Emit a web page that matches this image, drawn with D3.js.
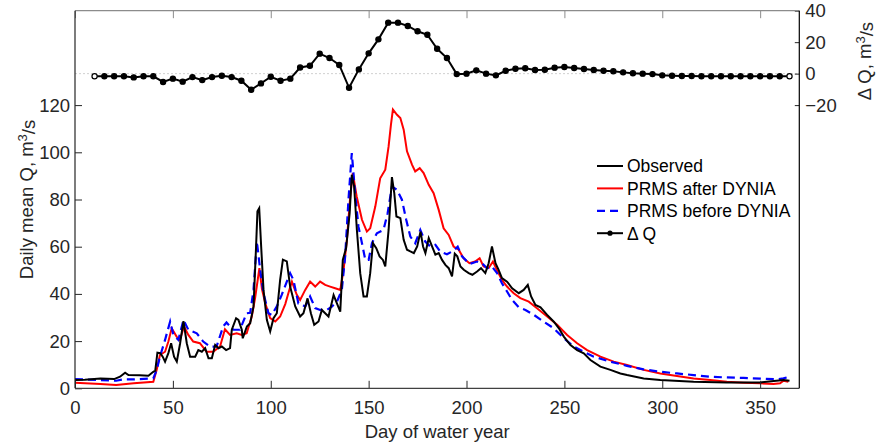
<!DOCTYPE html>
<html>
<head>
<meta charset="utf-8">
<script src="https://cdn.jsdelivr.net/npm/d3@7"></script>
<style>
  body { margin: 0; background: #fff; }
  text { font-family: Arial, "Liberation Sans", Helvetica, sans-serif; }
</style>
</head>
<body>
<svg id="chart" width="878" height="444"></svg>
<script>
// daily mean Q (m3/s), read as [day, Q]
const observed = [[0,3.5],[5,3.6],[13,4.2],[20,3.9],[23,4.9],[25.6,6.6],[27.3,5.6],[33,5.5],[37.5,5.3],[40,7.0],[41,7.5],
  [42.1,15.1],[43.5,14.9],[44.8,13.4],[46,11.3],[47.7,14.9],[49.1,19.1],[50.6,13.4],[52,11.3],[53.7,19.1],[55.4,28.5],
  [57.1,19.1],[58.8,13.4],[61.4,13.4],[63,16.2],[64.8,15.5],[66.5,17],[68.2,12.7],[69.9,12.7],[71.6,18.4],[73.3,17],
  [75,17.7],[77.2,16.2],[79.2,17],[80.1,24.8],[82.3,29.7],[83.5,29],[85.2,24.8],[85.7,21.2],[87.8,26.2],[89.5,27.6],
  [91.2,34.7],[92.5,60.1],[93.2,75],[94.1,76.3],[95.1,60.1],[96.3,41.7],[98,29],[99.7,24.1],[101.4,29.7],[103.1,31.8],
  [104.8,46],[106.2,54.5],[108.2,53.8],[109.9,43.1],[112.5,34.7],[115,30.4],[116.7,31.8],[118.8,38.1],[120.5,31.8],
  [122.2,26.9],[124.4,28.3],[126.1,33.2],[127.8,31.8],[129.5,30.4],[132.1,39.5],[133.8,36],[135.5,32.5],[136.8,54.4],
  [138.5,59.4],[140.3,74.2],[141.4,90.5],[142.6,85.5],[144,67.1],[145.7,48.8],[147.4,38.9],[149.1,38.9],[150.8,48.8],
  [152.2,61.5],[153.9,59.4],[155.6,55.9],[157.3,54.4],[158.5,51.6],[160.2,67.1],[161.9,89.5],[163.1,82.7],[164.2,72.8],
  [166.2,72.1],[167.9,62.9],[169.6,58.7],[171.3,58],[173.1,57.3],[174.8,60.1],[176.5,66.4],[177.8,60.1],[179,57.3],
  [180.7,63.6],[182.4,60.1],[184.1,56.6],[185.8,57.3],[187.5,54.4],[189.2,52.3],[190.9,50.9],[192.6,47.4],[194,57],
  [195.3,55.9],[196.9,51.6],[198.6,50.2],[201.1,48.8],[203,48.1],[205.4,49.5],[207.4,50.9],[209.6,48.8],[211.3,53],
  [213,60.1],[214.8,53],[216.4,50.2],[218.1,46.7],[220.7,45.2],[223.3,42.4],[226.7,40.3],[229.2,41.7],[231.3,43.8],
  [233,38.9],[235.2,35.3],[237.8,34.3],[241.2,31.1],[244.6,28.2],[247.2,25.4],[249.7,21.9],[253.1,18.3],[256.5,16.2],
  [259.9,14.8],[263.3,12],[268.4,9.2],[273.5,7.8],[278.6,6.3],[282,5.6],[290.5,4.2],[299,3.5],[316,2.8],[333,2.5],
  [350,2.5],[357,3.1],[362,3.5],[365,3.2]];

const prmsAfter = [[0,2.4],[13,1.8],[21,1.4],[30,2.1],[40,2.8],[41.7,7.7],[43.4,14.1],[46,15.5],[47.7,19.8],[49.4,25.4],
  [51.9,21.9],[53.6,20.5],[55.7,26.2],[57.9,22.6],[60.4,19.8],[63.8,19.1],[67.2,15.5],[70.6,15.5],[74.1,17.7],[76.6,25],
  [79.2,22.6],[82.6,23.3],[85.2,22.6],[87.7,23.3],[90.3,30.4],[92,38.2],[94.2,50.9],[95.5,42],[97.2,36],[99.7,29.7],
  [102.3,28.3],[104.8,30.4],[107.4,35.7],[109.1,40.6],[110.8,45.2],[113.3,39.6],[115,37.4],[117.6,41.7],[120.1,45.2],
  [122.7,43.1],[125.2,45.2],[127.8,43.8],[130.3,43.1],[132.9,42.4],[135.5,41.7],[137.2,50.2],[138.9,62.9],[140.6,81.3],
  [141.9,91.2],[143.9,81.3],[146.6,71.4],[149.1,66.4],[150.8,67.8],[153.4,77],[155.9,89],[158.5,92.6],[160.2,102.5],
  [161.4,111.7],[162.4,118.1],[164.5,115.9],[166.2,114.5],[167.9,109.6],[169.6,100.4],[172.2,94.7],[173.8,91.9],
  [176.1,93.3],[178.1,91.2],[180.7,86.2],[183.2,82.7],[185.8,75.6],[188.3,67.8],[190.9,65],[193.4,60.1],[196,58.7],
  [198.5,55.1],[201.5,53],[204.4,53.7],[206.7,55.1],[208.7,51.6],[211.3,50.9],[213.5,53.7],[215.5,50.2],[218.1,45.9],
  [220.7,43.1],[224.1,40.3],[227.5,38.2],[231.8,36.7],[236,33.9],[241.2,30.4],[246.3,26.9],[251.4,22.6],[256.5,19.1],
  [261.6,16.2],[268.4,13.4],[275.2,11.3],[282,9.9],[290.5,7.8],[299,6.3],[307.5,5.2],[316,4.2],[324.5,3.5],[333,2.8],
  [341.5,2.4],[350,2.1],[356.8,1.8],[360.2,2.1],[361.9,3.2],[364.4,2.8]];

const prmsBefore = [[0,3.9],[13,3.5],[21,3.2],[25,3.8],[30,3.8],[40,4.2],[41.7,7.7],[43.4,13.4],[46,20.5],[48.6,28.3],
  [50.3,22.6],[52.8,20.5],[55.4,29],[57.9,24.8],[62.2,23.3],[65.5,19.8],[68.9,17.7],[72.3,17.7],[75.7,26.2],[77.4,27.9],
  [80.8,24.8],[84.2,24.8],[87.7,31.8],[89.5,32],[91.2,41.7],[92.9,62.2],[94.6,50.2],[96.3,40.3],[98.8,31.8],[100.5,31.1],
  [103.1,34.7],[105.6,39.6],[108.2,45.2],[109.9,48.8],[111.6,45.9],[114.1,36],[115,36],[117.6,34.6],[120.1,38.9],
  [122.7,34],[125.2,33.2],[128.6,33.2],[131.2,34.6],[133.8,36.7],[136.3,41.7],[138,55.8],[139.7,79.9],[141.4,99.7],
  [143.1,82.7],[144.8,68.5],[146.6,61.5],[148.3,54.4],[150,54.4],[151.7,61.5],[154.2,65.7],[157.6,67.1],[159.7,74.2],
  [161.9,85.5],[164.5,84.1],[167,79.9],[169.2,71.4],[171.3,64.3],[173.8,61.5],[176.4,67.1],[178.9,62.2],[181.5,60.1],
  [184.1,60.8],[186.6,57.9],[190,56.8],[193.4,58.3],[195.5,60],[197.7,55.9],[201.5,52.7],[205.4,53.7],[207.9,53],
  [210.5,50.9],[213,51.6],[215.6,48.8],[218.1,44.5],[220.7,41],[223.3,37.4],[226.7,34.3],[230.1,33.2],[234.4,31.1],
  [239.5,28.2],[244.6,25.4],[249.7,21.2],[254.8,17.7],[259.9,15.5],[265,13.4],[273.5,11.3],[282,9.5],[290.5,8],[299,7],
  [307.5,6.3],[316,5.6],[324.5,4.9],[333,4.6],[341.5,4.4],[350,4.1],[358.5,3.8],[361.9,4.2],[363.6,4.6],[364.6,4.1]];

// delta Q every 5 days from day 10 to 365
const dqDays = d3.range(10, 366, 5);
const dqValues = [-1.7,-1.7,-1.7,-1.7,-2.4,-1.7,-1.7,-5.3,-3.2,-5.1,-2.2,-4.1,-2.2,-1.3,-2.2,-4.5,-10.2,-6.2,-2,-4.5,
  -3.2,3.9,5.0,12.7,9.9,5.5,-9.0,2.7,12.9,21.8,32.4,32.4,30.3,26.9,24.7,15.8,9.9,-0.3,0,2.1,0,-1.1,1.8,3.1,3.4,2.3,
  2.5,3.8,4.2,3.6,2.9,2.3,1.8,1.5,0.8,0.2,0,-0.3,-1.1,-1.3,-1.5,-1.5,-1.7,-1.7,-1.7,-1.7,-1.7,-1.7,-1.7,-1.7,-1.7,-1.7];

const xTicks = [0,50,100,150,200,250,300,350];
const yTicks = [0,20,40,60,80,100,120];
const yRTicks = [-20,0,20,40];
const legendItems = ["Observed","PRMS after DYNIA","PRMS before DYNIA","\u0394 Q"];

let mLeft = 75, mRight = 799.3, mTop = 10.7, mBottom = 388.3;
let svg = d3.select('#chart');

let x = d3.scaleLinear().domain([0,370]).range([mLeft,mRight]);
let y = d3.scaleLinear().domain([0,160]).range([mBottom,mTop]);
let yR = d3.scaleLinear().domain([-200,40]).range([mBottom,mTop]);

let axisColor = '#262626';

// zero line of delta Q axis
svg.append('line')
  .attr('x1', mLeft).attr('x2', mRight)
  .attr('y1', yR(0)).attr('y2', yR(0))
  .attr('stroke', '#d0d0d0').attr('stroke-width', 1)
  .attr('stroke-dasharray', '2,2');

let line = d3.line().x(d => x(d[0])).y(d => y(d[1]));

svg.append('path').datum(prmsAfter)
  .attr('d', line).attr('fill','none')
  .attr('stroke','#ff0000').attr('stroke-width',2);

svg.append('path').datum(prmsBefore)
  .attr('d', line).attr('fill','none')
  .attr('stroke','#0000ff').attr('stroke-width',2.2)
  .attr('stroke-dasharray','8,5');

svg.append('path').datum(observed)
  .attr('d', line).attr('fill','none')
  .attr('stroke','#000').attr('stroke-width',2);

let dq = dqDays.map((d,i) => [d, dqValues[i]]);
let dqLine = d3.line().x(d => x(d[0])).y(d => yR(d[1]));
svg.append('path').datum(dq)
  .attr('d', dqLine).attr('fill','none')
  .attr('stroke','#000').attr('stroke-width',2);
svg.append('g').selectAll('circle').data(dq).enter()
  .append('circle')
  .attr('cx', d => x(d[0])).attr('cy', d => yR(d[1]))
  .attr('r', 2.6)
  .attr('fill', (d,i) => (i === 0 || i === dq.length-1) ? '#fff' : '#000')
  .attr('stroke', '#000').attr('stroke-width', 1.2);

// axes
let gx = svg.append('g').attr('transform', `translate(0,${mBottom})`)
  .call(d3.axisBottom(x).tickValues(xTicks).tickSizeInner(-7.5).tickSizeOuter(0).tickPadding(13));
let gxTop = svg.append('g').attr('transform', `translate(0,${mTop})`)
  .call(d3.axisTop(x).tickValues(xTicks).tickSizeInner(-7.5).tickSizeOuter(0).tickFormat(''));
let gy = svg.append('g').attr('transform', `translate(${mLeft},0)`)
  .call(d3.axisLeft(y).tickValues(yTicks).tickSizeInner(-7).tickSizeOuter(0).tickPadding(5));
let gyR = svg.append('g').attr('transform', `translate(${mRight},0)`)
  .call(d3.axisRight(yR).tickValues(yRTicks).tickSizeInner(-4.5).tickSizeOuter(0).tickPadding(6));

[gx, gxTop, gy, gyR].forEach(g => {
  g.select('.domain').remove();
  g.selectAll('.tick line').attr('stroke', axisColor).attr('stroke-width', 1);
  g.selectAll('.tick text').attr('fill', axisColor).style('font-size', '18.5px');
});
gxTop.selectAll('.tick line').attr('stroke', '#8c8c8c');

// box
svg.append('line').attr('x1',mLeft).attr('x2',mRight).attr('y1',mTop).attr('y2',mTop)
  .attr('stroke','#8c8c8c').attr('stroke-width',1.2);
svg.append('line').attr('x1',mLeft).attr('x2',mRight).attr('y1',mBottom).attr('y2',mBottom)
  .attr('stroke','#404040').attr('stroke-width',1.2);
svg.append('line').attr('x1',mLeft).attr('x2',mLeft).attr('y1',mTop).attr('y2',mBottom)
  .attr('stroke',axisColor).attr('stroke-width',1.2);
svg.append('line').attr('x1',mRight).attr('x2',mRight).attr('y1',mTop).attr('y2',mBottom)
  .attr('stroke','#000').attr('stroke-width',1.2);

// axis labels
svg.append('text')
  .attr('x', (mLeft+mRight)/2).attr('y', 438)
  .attr('text-anchor','middle').attr('fill',axisColor)
  .style('font-size','18.5px')
  .text('Day of water year');

let yl = svg.append('text')
  .attr('transform', `translate(33,${(mTop+mBottom)/2}) rotate(-90)`)
  .attr('text-anchor','middle').attr('fill',axisColor)
  .style('font-size','18.5px');
yl.append('tspan').text('Daily mean Q, m');
yl.append('tspan').attr('dy','-0.45em').style('font-size','13px').text('3');
yl.append('tspan').attr('dy','0.45em').text('/s');

let yrl = svg.append('text')
  .attr('transform', `translate(871,${yR(8)}) rotate(-90)`)
  .attr('text-anchor','middle').attr('fill',axisColor)
  .style('font-size','18.5px');
yrl.append('tspan').text('\u0394 Q, m');
yrl.append('tspan').attr('dy','-0.45em').style('font-size','13px').text('3');
yrl.append('tspan').attr('dy','0.45em').text('/s');

// legend
let lg = svg.append('g');
let styles = [
  {stroke:'#000', dash:null, w:2},
  {stroke:'#ff0000', dash:null, w:2},
  {stroke:'#0000ff', dash:'8,5', w:2.2},
  {stroke:'#000', dash:null, w:2}
];
legendItems.forEach((name, i) => {
  let ly = 166 + i*22.4;
  lg.append('line')
    .attr('x1', 597).attr('x2', 623).attr('y1', ly).attr('y2', ly)
    .attr('stroke', styles[i].stroke).attr('stroke-width', styles[i].w)
    .attr('stroke-dasharray', styles[i].dash);
  if(i === 3){
    lg.append('circle').attr('cx', 610).attr('cy', ly).attr('r', 2.6).attr('fill','#000');
  }
  lg.append('text')
    .attr('x', 627).attr('y', ly).attr('dy','0.36em')
    .attr('fill','#000').style('font-size','17.5px')
    .text(name);
});
</script>
</body>
</html>
